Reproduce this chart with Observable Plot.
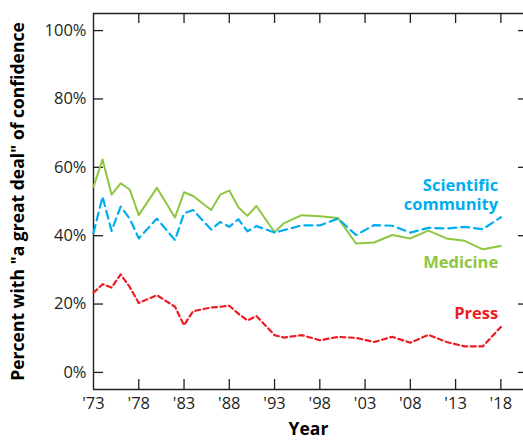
<!DOCTYPE html>
<html>
<head>
<meta charset="utf-8">
<script src="https://cdn.jsdelivr.net/npm/d3@7"></script>
<script src="https://cdn.jsdelivr.net/npm/@observablehq/plot@0.6"></script>
<style>
  html, body { margin: 0; padding: 0; background: #fff; overflow: hidden; }
</style>
</head>
<body>
<div id="chart"></div>
<script>
const years = [1973,1974,1975,1976,1977,1978,1980,1982,1983,1984,1986,1987,1988,1989,1990,1991,1993,1994,1996,1998,2000,2002,2004,2006,2008,2010,2012,2014,2016,2018];
const medicine = [54.3,62.3,52,55.3,53.5,46,54,45.3,52.7,51.6,47.5,52,53.2,48.3,45.8,48.7,41,43.6,46,45.7,45.2,37.7,38,40.2,39.2,41.5,39.2,38.5,36,37];
const science = [40.8,51.4,41.4,48.5,45,39.2,45,38.7,46.5,47.5,41.8,44,42.6,44.8,41.3,42.8,40.9,41.6,43,43,45,40.2,43.1,42.9,40.9,42.3,42.1,42.6,41.9,45.4];
const press = [23.3,25.8,24.8,28.7,25,20.3,22.6,19.2,13.8,17.9,19,19.2,19.5,17.2,15.2,16.5,10.9,10.2,10.9,9.4,10.4,10.1,8.9,10.4,8.7,11,8.9,7.6,7.6,13.3];

const xTicks = [1973,1978,1983,1988,1993,1998,2003,2008,2013,2018];
const xTickLabels = ["'73","'78","'83","'88","'93","'98","'03","'08","'13","'18"];
const yTicks = [0,20,40,60,80,100];
const yTickLabels = ["0%","20%","40%","60%","80%","100%"];

const seriesNames = ["Scientific","community","Medicine","Press"];
const seriesLabelY = [54.6, 49.0, 32.2, 17.3];
const seriesColorIdx = [0, 0, 1, 2];
const seriesLabelX = 2017.7;
const colors = ["#00aeef","#8dc63f","#ed1c24"];

const W = 523, H = 441, mL = 93, mR = 0, mT = 13, mB = 52;
const xDom = [1973, 2020.5], yDom = [-5, 105];
const pxX = (W - mL - mR) / (xDom[1] - xDom[0]);
const pxY = (H - mT - mB) / (yDom[1] - yDom[0]);

const toRows = (vals) => years.map((y, i) => ({year: y, value: vals[i]}));
const axisColor = "#231f20";

const chart = Plot.plot({
  width: W, height: H,
  marginLeft: mL, marginRight: mR, marginTop: mT, marginBottom: mB,
  style: {fontFamily: "Open Sans", fontSize: "16px", color: axisColor, background: "#fff"},
  x: {domain: xDom, axis: null},
  y: {domain: yDom, axis: null},
  marks: [
    Plot.ruleY([yDom[0], yDom[1]], {stroke: axisColor, strokeWidth: 1.4}),
    Plot.ruleX([xDom[0]], {stroke: axisColor, strokeWidth: 1.4}),
    // left ticks inward
    Plot.ruleY(yTicks, {y: d => d, x1: xDom[0], x2: xDom[0] + 10 / pxX, stroke: axisColor, strokeWidth: 1.3}),
    // right ticks inward
    Plot.ruleY(yTicks, {y: d => d, x1: xDom[1] - 5 / pxX, x2: xDom[1], stroke: axisColor, strokeWidth: 1.3}),
    // bottom ticks inward
    Plot.ruleX(xTicks.slice(1), {x: d => d, y1: yDom[0], y2: yDom[0] + 10 / pxY, stroke: axisColor, strokeWidth: 1.3}),
    // top ticks inward
    Plot.ruleX(xTicks.slice(1), {x: d => d, y1: yDom[1] - 10 / pxY, y2: yDom[1], stroke: axisColor, strokeWidth: 1.3}),
    // tick labels
    Plot.text(yTicks, {x: xDom[0], y: d => d, text: (d, i) => yTickLabels[i], textAnchor: "end", dx: -7, fill: axisColor, fontSize: 16.5}),
    Plot.text(xTicks, {x: d => d, y: yDom[0], text: (d, i) => xTickLabels[i], dy: 14, fill: axisColor, fontSize: 16.5}),
    // axis titles
    Plot.text(["Percent with \"a great deal\" of confidence"], {frameAnchor: "left", textAnchor: "middle", rotate: -90, dx: -75, fontWeight: "bold", fontSize: 17.5, fill: "#000"}),
    Plot.text(["Year"], {frameAnchor: "bottom", lineAnchor: "middle", dy: 40, fontWeight: "bold", fontSize: 17.5, fill: "#000"}),
    // series
    Plot.line(toRows(medicine), {x: "year", y: "value", stroke: colors[1], strokeWidth: 2}),
    Plot.line(toRows(science), {x: "year", y: "value", stroke: colors[0], strokeWidth: 2.2, strokeDasharray: "8,5"}),
    Plot.line(toRows(press), {x: "year", y: "value", stroke: colors[2], strokeWidth: 2.2, strokeDasharray: "5,3.5"}),
    // series labels
    Plot.text(seriesNames, {x: seriesLabelX, y: (d, i) => seriesLabelY[i], text: d => d, fill: (d, i) => colors[seriesColorIdx[i]], textAnchor: "end", fontWeight: "bold", fontSize: 16.5})
  ]
});
document.getElementById("chart").appendChild(chart);
</script>
</body>
</html>
